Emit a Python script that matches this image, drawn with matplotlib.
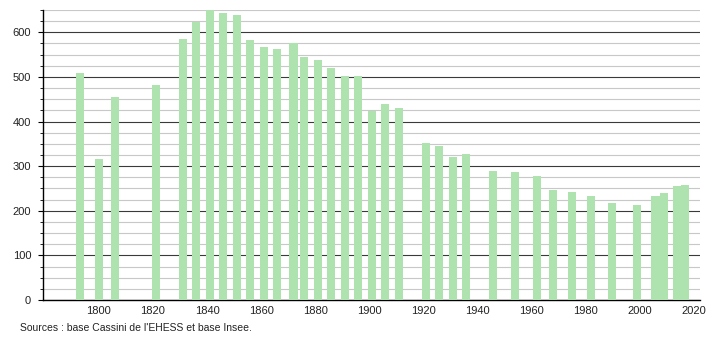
import matplotlib.pyplot as plt
from matplotlib.ticker import MultipleLocator

annees = [1793, 1800, 1806, 1821, 1831, 1836, 1841, 1846, 1851, 1856, 1861, 1866,
          1872, 1876, 1881, 1886, 1891, 1896, 1901, 1906, 1911, 1921, 1926, 1931,
          1936, 1946, 1954, 1962, 1968, 1975, 1982, 1990, 1999, 2006, 2009, 2014, 2017]
population = [508, 315, 456, 483, 586, 623, 652, 643, 639, 582, 566, 562,
              577, 544, 537, 519, 501, 501, 423, 440, 431, 352, 346, 321,
              328, 290, 288, 277, 247, 243, 234, 218, 213, 234, 240, 256, 258]

plt.rcParams['font.family'] = ['Liberation Sans', 'DejaVu Sans']

fig = plt.figure(figsize=(7.1, 3.4), dpi=100)
ax = fig.add_axes([0.0606, 0.1176, 0.9258, 0.853])

ax.bar(annees, population, width=3, color='#aee3b0', zorder=3)

ax.set_xlim(1779.3, 2022.6)
ax.set_ylim(0, 650)
ax.yaxis.set_major_locator(MultipleLocator(100))
ax.yaxis.set_minor_locator(MultipleLocator(25))
ax.set_xticks(range(1800, 2021, 20))

ax.grid(which='minor', axis='y', color='#c8c8c8', linewidth=0.8, zorder=1)
ax.grid(which='major', axis='y', color='#3a3a3a', linewidth=0.8, zorder=2)

for s in ['top', 'right']:
    ax.spines[s].set_visible(False)
ax.spines['left'].set_linewidth(1.0)
ax.spines['bottom'].set_linewidth(1.0)

ax.tick_params(axis='x', length=0, labelsize=8, pad=4, labelcolor='#222222')
ax.tick_params(axis='y', which='major', length=3.5, labelsize=8, pad=5, labelcolor='#222222')
ax.tick_params(axis='y', which='minor', length=2)

fig.text(0.028, 0.027, "Sources : base Cassini de l'EHESS et base Insee.", fontsize=7.5, color='#222222')

fig.savefig('out.png', dpi=100)
plt.close()
